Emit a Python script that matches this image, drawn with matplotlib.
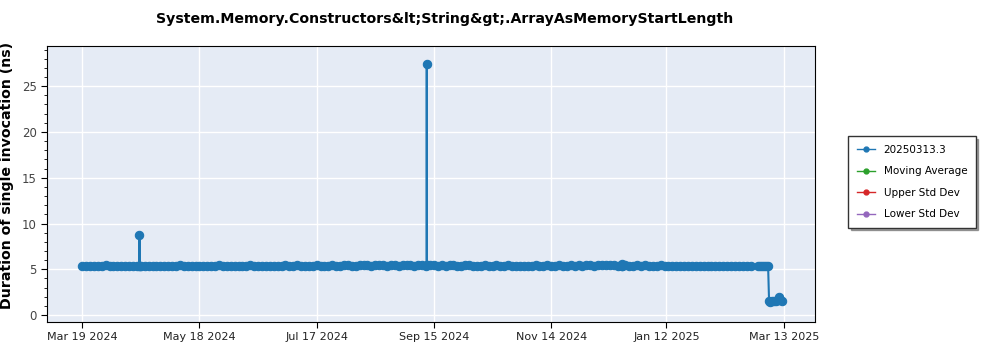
import matplotlib
matplotlib.use("Agg")
import matplotlib.pyplot as plt
import pandas as pd
import numpy as np

title = "System.Memory.Constructors&lt;String&gt;.ArrayAsMemoryStartLength"
ylabel = "Duration of single invocation (ns)"
legend_names = ["20250313.3", "Moving Average", "Upper Std Dev", "Lower Std Dev"]
legend_colors = ["#1f77b4", "#2ca02c", "#d62728", "#9467bd"]
tick_dates = ["2024-03-19", "2024-05-18", "2024-07-17", "2024-09-15",
              "2024-11-14", "2025-01-12", "2025-03-13"]
tick_labels = ["Mar 19 2024", "May 18 2024", "Jul 17 2024", "Sep 15 2024",
               "Nov 14 2024", "Jan 12 2025", "Mar 13 2025"]

# main run: every two days, 2024-03-19 .. 2025-02-24
base_start = "2024-03-19"
base_values = [
    5.40, 5.38, 5.36, 5.41, 5.39, 5.35, 5.42, 5.37, 5.40, 5.38,
    5.36, 5.39, 5.41, 5.37, 5.38, 5.40, 5.36, 5.38, 5.35, 5.39,
    5.41, 5.37, 5.36, 5.40, 5.38, 5.42, 5.39, 5.37, 5.40, 5.38,
    5.41, 5.39, 5.37, 5.40, 5.36, 5.42, 5.38, 5.39, 5.41, 5.37,
    5.40, 5.38, 5.39, 5.42, 5.37, 5.40, 5.41, 5.38, 5.39, 5.40,
    5.37, 5.41, 5.43, 5.39, 5.40, 5.42, 5.38, 5.41, 5.40, 5.39,
    5.42, 5.40, 5.38, 5.41, 5.43, 5.40, 5.39, 5.42, 5.44, 5.41,
    5.40, 5.43, 5.42, 5.45, 5.41, 5.43, 5.44, 5.42, 5.41, 5.43,
    5.44, 5.41, 5.42, 5.45, 5.43, 5.40, 5.42, 5.44, 5.41, 5.43,
    5.42, 5.40, 5.43, 5.41, 5.42, 5.44, 5.40, 5.41, 5.43, 5.42,
    5.40, 5.41, 5.39, 5.42, 5.40, 5.41, 5.43, 5.40, 5.39, 5.42,
    5.41, 5.40, 5.38, 5.41, 5.40, 5.39, 5.42, 5.40, 5.41, 5.42,
    5.40, 5.39, 5.42, 5.41, 5.40, 5.43, 5.41, 5.42, 5.40, 5.43,
    5.44, 5.41, 5.42, 5.45, 5.43, 5.42, 5.44, 5.41, 5.43, 5.42,
    5.40, 5.41, 5.43, 5.40, 5.42, 5.41, 5.39, 5.40, 5.42, 5.41,
    5.39, 5.40, 5.41, 5.38, 5.40, 5.39, 5.41, 5.40, 5.38, 5.39,
    5.40, 5.38, 5.39, 5.41, 5.38, 5.40, 5.39, 5.38, 5.40, 5.39,
    5.38, 5.40,
]

# isolated outlier runs with their neighbouring runs on the same day
spike_dates = ["2024-04-17 07:00", "2024-04-17 08:00", "2024-04-17 09:00",
               "2024-09-11 07:00", "2024-09-11 08:00", "2024-09-11 09:00",
               "2024-12-20 07:00", "2024-12-20 08:00", "2024-12-20 09:00"]
spike_values = [5.40, 8.80, 5.40,
                5.42, 27.40, 5.42,
                5.41, 5.62, 5.41]

# final segment
tail_dates = ["2025-02-28 00:00", "2025-03-01 00:00",
              "2025-03-02 00:00", "2025-03-03 00:00", "2025-03-04 00:00", "2025-03-05 00:00",
              "2025-03-05 12:00", "2025-03-06 00:00", "2025-03-07 00:00", "2025-03-08 00:00",
              "2025-03-09 00:00", "2025-03-10 00:00", "2025-03-10 12:00", "2025-03-11 00:00",
              "2025-03-12 00:00"]
tail_values = [5.40, 5.38, 5.41, 5.39, 5.40, 5.40,
               1.50, 1.48, 1.52, 1.50, 1.55, 1.70, 2.00, 1.65, 1.55]

base_dates = pd.date_range(base_start, periods=len(base_values), freq="2D")
df = pd.DataFrame({
    "date": list(base_dates) + list(pd.to_datetime(spike_dates, format="mixed"))
            + list(pd.to_datetime(tail_dates, format="mixed")),
    "value": base_values + spike_values + tail_values,
}).sort_values("date")

fig = plt.figure(figsize=(10, 3.5), dpi=100)
ax = fig.add_axes([0.047, 0.08, 0.768, 0.789])
ax.set_facecolor("#E5EBF5")
ax.grid(True, color="white", linewidth=1.0)
ax.set_axisbelow(True)

ax.plot(df["date"], df["value"], color=legend_colors[0], marker="o",
        markersize=6, linewidth=1.5, markeredgewidth=0.8)
handles = []
for name, c in zip(legend_names, legend_colors):
    h, = ax.plot([], [], color=c, marker="o", markersize=3.5, linewidth=1.0, label=name)
    handles.append(h)

ax.set_xlim(pd.Timestamp("2024-03-01"), pd.Timestamp("2025-03-29"))
ax.set_ylim(-0.75, 29.4)
ax.set_xticks(pd.to_datetime(tick_dates))
ax.set_xticklabels(tick_labels, fontsize=8, color="#222222")
ax.set_yticks([0, 5, 10, 15, 20, 25])
ax.set_yticks(np.arange(0, 30, 1), minor=True)
ax.tick_params(axis="y", labelsize=8.5, labelcolor="#444444")
ax.tick_params(axis="both", which="major", length=4)
ax.tick_params(axis="y", which="minor", length=2)
ax.set_ylabel(ylabel, fontsize=10.2, fontweight="bold")
ax.yaxis.set_label_coords(-0.043, 0.53)
for s in ax.spines.values():
    s.set_color("black")

fig.text(0.445, 0.947, title, ha="center", va="center", fontsize=10.2, fontweight="bold")

leg = fig.legend(handles=handles, labels=legend_names, loc="center left",
                 bbox_to_anchor=(0.843, 0.48), fontsize=7.5, frameon=True,
                 fancybox=False, shadow=True, edgecolor="#333333", framealpha=1,
                 labelspacing=1.1, handlelength=1.8, borderpad=0.8)

fig.savefig("out.png", dpi=100)
